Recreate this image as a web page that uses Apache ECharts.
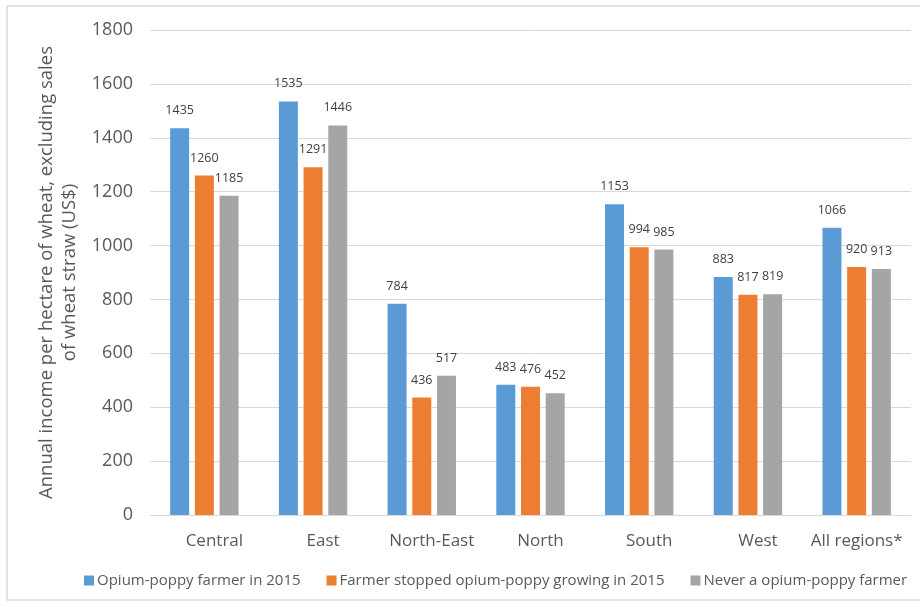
<!DOCTYPE html>
<html><head><meta charset="utf-8">
<script src="https://cdn.jsdelivr.net/npm/echarts@6/dist/echarts.min.js"></script>
<style>html,body{margin:0;padding:0;background:#fff}#c{width:920px;height:606px}</style>
</head><body><div id="c"></div>
<script>
const categories = ['Central','East','North-East','North','South','West','All regions*'];
const seriesNames = ['Opium-poppy farmer in 2015','Farmer stopped opium-poppy growing in 2015','Never a opium-poppy farmer'];
const opiumFarmer = [1435,1535,784,483,1153,883,1066];
const stoppedFarmer = [1260,1291,436,476,994,817,920];
const neverFarmer = [1185,1446,517,452,985,819,913];
const colors = ['#5B9BD5','#ED7D31','#A5A5A5'];
const font = '"Open Sans", "Liberation Sans", sans-serif';
const chart = echarts.init(document.getElementById('c'));
const mk = (name, data, color) => ({
  name, type:'bar', data, barWidth:19, barGap:'30%',
  itemStyle:{color},
  label:{show:true, position:'top', distance:11, color:'#404040', fontSize:12.5, fontFamily:font}
});
const catData = categories.map((c,i)=> i===categories.length-1 ? {value:c, textStyle:{padding:0}} : c);
chart.setOption({
  animation:false,
  textStyle:{fontFamily:font},
  graphic:[{type:'rect', shape:{x:7,y:6,width:1000,height:594}, style:{fill:'none', stroke:'#d9d9d9', lineWidth:1.5}, silent:true}],
  grid:{left:150,right:9,top:30,bottom:91},
  legend:{bottom:13,left:79,itemWidth:10,itemHeight:10,itemGap:26,icon:'rect',
    textStyle:{color:'#595959',fontSize:15,fontFamily:font,padding:[0,0,0,-2]},data:seriesNames},
  xAxis:{type:'category',data:catData,
    axisLine:{lineStyle:{color:'#d9d9d9'}},axisTick:{show:false},
    axisLabel:{color:'#595959',fontSize:17,margin:18,fontFamily:font,interval:0,padding:[0,0,0,20]}},
  yAxis:{type:'value',min:0,max:1800,interval:200,
    name:'Annual income per hectare of wheat, excluding sales\nof wheat straw (US$)',
    nameLocation:'middle',nameGap:62,nameRotate:90,
    nameTextStyle:{color:'#595959',fontSize:18.5,lineHeight:23,fontFamily:font},
    axisLine:{show:false},axisTick:{show:false},
    splitLine:{lineStyle:{color:'#d9d9d9'}},
    axisLabel:{color:'#595959',fontSize:18,margin:17,fontFamily:font,formatter:v=>String(v)}},
  series:[mk(seriesNames[0],opiumFarmer,colors[0]),mk(seriesNames[1],stoppedFarmer,colors[1]),mk(seriesNames[2],neverFarmer,colors[2])]
});
</script></body></html>
